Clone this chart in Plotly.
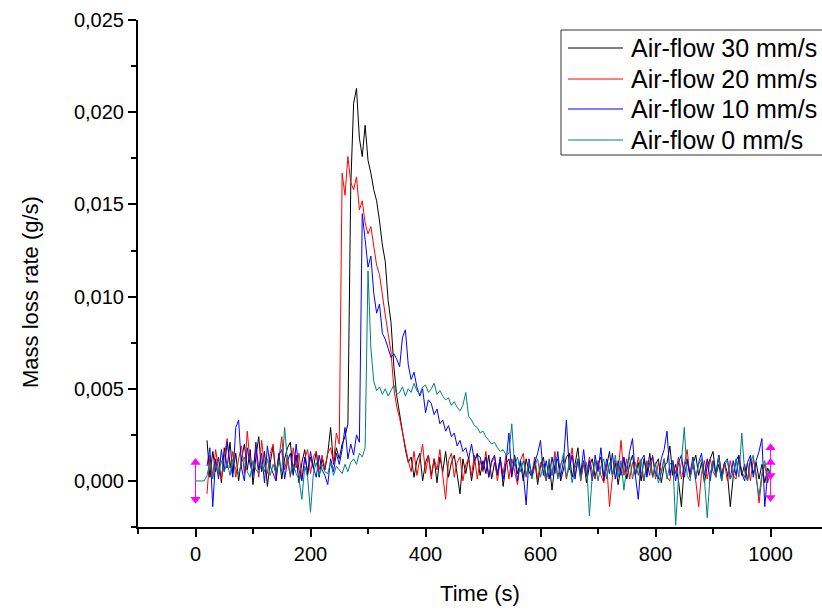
import plotly.graph_objects as go

time_s = list(range(0, 1001, 5))

flow_30 = [
    None, None, None, None, 0.0022, 0.0002, 0.0016, 0.0005, 0.0013, -0.0001,
    0.0018, 0.0007, 0.0021, 0.0004, 0.0015, 0.0000, 0.0012, 0.0020, 0.0006, 0.0017,
    -0.0002, 0.0013, 0.0024, 0.0005, 0.0016, -0.0003, 0.0010, 0.0019, 0.0003, 0.0015,
    0.0001, 0.0012, 0.0018, 0.0021, 0.0004, 0.0014, -0.0001, 0.0010, 0.0017, 0.0003,
    0.0013, 0.0007, 0.0016, 0.0002, 0.0012, 0.0006, 0.0015, 0.0029, 0.0009, 0.0018,
    0.0012, 0.0020, 0.0024, 0.0031, 0.0160, 0.0205, 0.0213, 0.0186, 0.0176, 0.0193,
    0.0174, 0.0167, 0.0158, 0.0152, 0.0141, 0.0128, 0.0119, 0.0098, 0.0086, 0.0062,
    0.0046, 0.0036, 0.0025, 0.0017, 0.0010, 0.0013, 0.0002, 0.0011, 0.0015, 0.0000,
    0.0010, 0.0014, 0.0003, 0.0012, -0.0001, 0.0013, 0.0005, 0.0016, 0.0002, 0.0010,
    0.0014, 0.0003, -0.0007, 0.0012, 0.0004, 0.0013, 0.0000, 0.0010, 0.0015, 0.0003,
    0.0011, 0.0004, 0.0014, 0.0001, 0.0010, 0.0003, 0.0013, -0.0003, 0.0009, 0.0012,
    0.0002, 0.0014, 0.0004, 0.0010, 0.0000, 0.0012, 0.0005, 0.0002, 0.0011, -0.0002,
    0.0008, 0.0013, 0.0001, 0.0010, -0.0005, 0.0009, 0.0012, 0.0000, 0.0007, 0.0013,
    0.0015, 0.0002, 0.0009, 0.0018, 0.0003, 0.0011, -0.0001, 0.0008, 0.0012, 0.0002,
    0.0009, 0.0013, 0.0000, 0.0008, 0.0016, 0.0003, 0.0010, -0.0002, 0.0008, 0.0012,
    0.0001, 0.0009, 0.0014, 0.0003, 0.0010, 0.0000, 0.0012, 0.0004, 0.0015, 0.0002,
    0.0009, 0.0012, -0.0001, 0.0008, 0.0010, 0.0019, 0.0003, 0.0009, 0.0000, -0.0014,
    0.0008, 0.0012, 0.0002, 0.0009, 0.0014, 0.0003, 0.0010, -0.0001, 0.0008, 0.0012,
    0.0016, 0.0003, 0.0009, 0.0000, 0.0010, 0.0004, -0.0014, 0.0002, 0.0011, 0.0014,
    0.0003, 0.0009, 0.0000, 0.0012, 0.0004, 0.0010, 0.0001, 0.0009, -0.0001, 0.0007,
    0.0003,
]

flow_20 = [
    None, None, None, None, -0.0007, 0.0014, 0.0003, 0.0017, 0.0006, 0.0001,
    0.0013, 0.0023, 0.0007, 0.0016, 0.0002, 0.0012, 0.0019, 0.0004, 0.0027, 0.0010,
    0.0005, 0.0017, 0.0002, 0.0022, 0.0008, 0.0004, 0.0015, 0.0020, 0.0000, 0.0013,
    0.0024, 0.0006, 0.0014, 0.0002, 0.0018, 0.0007, 0.0015, 0.0001, 0.0012, 0.0017,
    0.0004, 0.0013, 0.0016, 0.0006, 0.0014, 0.0007, 0.0015, 0.0018, 0.0010, 0.0026,
    0.0020, 0.0167, 0.0155, 0.0176, 0.0162, 0.0158, 0.0165, 0.0147, 0.0152, 0.0140,
    0.0134, 0.0138, 0.0126, 0.0117, 0.0112, 0.0100, 0.0090, 0.0080, 0.0070, 0.0050,
    0.0040, 0.0034, 0.0026, 0.0018, 0.0011, 0.0005, 0.0016, 0.0003, 0.0011, 0.0020,
    0.0004, 0.0014, 0.0001, 0.0012, 0.0006, 0.0017, 0.0003, -0.0010, 0.0011, 0.0015,
    0.0002, 0.0010, 0.0013, 0.0000, 0.0009, 0.0012, 0.0003, 0.0014, 0.0001, 0.0011,
    0.0005, 0.0016, 0.0002, 0.0010, 0.0013, 0.0000, 0.0011, 0.0004, 0.0014, 0.0001,
    0.0012, 0.0005, -0.0002, 0.0011, 0.0015, 0.0002, 0.0009, 0.0004, 0.0013, 0.0001,
    0.0010, 0.0005, 0.0000, 0.0012, 0.0003, 0.0016, 0.0002, 0.0009, 0.0012, 0.0001,
    0.0008, 0.0018, 0.0003, 0.0011, 0.0000, 0.0010, 0.0002, 0.0013, 0.0005, 0.0001,
    0.0011, 0.0003, -0.0001, 0.0009, -0.0014, 0.0002, 0.0011, 0.0005, 0.0022, 0.0003,
    0.0012, 0.0001, 0.0010, 0.0003, 0.0013, 0.0005, 0.0000, 0.0011, 0.0003, 0.0014,
    0.0001, 0.0010, 0.0005, 0.0012, 0.0002, 0.0000, 0.0011, 0.0004, 0.0013, 0.0001,
    0.0010, 0.0017, 0.0002, 0.0009, 0.0000, -0.0014, 0.0004, 0.0011, 0.0001, 0.0012,
    0.0005, 0.0002, 0.0014, 0.0004, 0.0010, 0.0000, 0.0011, 0.0003, 0.0001, 0.0013,
    0.0005, 0.0002, 0.0010, 0.0000, 0.0012, 0.0004, -0.0012, 0.0002, 0.0009, -0.0001,
    0.0005,
]

flow_10 = [
    None, None, None, None, 0.0008, 0.0018, -0.0014, 0.0012, 0.0001, 0.0017,
    0.0005, 0.0021, 0.0010, 0.0002, 0.0029, 0.0033, 0.0007, 0.0000, 0.0018, 0.0009,
    0.0003, 0.0021, 0.0006, 0.0015, -0.0001, 0.0019, 0.0008, 0.0004, 0.0000, 0.0014,
    0.0017, 0.0001, 0.0011, 0.0015, 0.0003, 0.0020, 0.0006, 0.0000, 0.0013, 0.0005,
    0.0016, 0.0007, 0.0002, 0.0014, 0.0006, 0.0003, -0.0002, 0.0012, 0.0005, 0.0015,
    0.0009, 0.0017, 0.0029, 0.0012, 0.0020, 0.0014, 0.0025, 0.0021, 0.0145, 0.0131,
    0.0116, 0.0122, 0.0102, 0.0091, 0.0096, 0.0080, 0.0077, 0.0072, 0.0067, 0.0069,
    0.0066, 0.0062, 0.0078, 0.0082, 0.0063, 0.0055, 0.0059, 0.0051, 0.0046, 0.0050,
    0.0037, 0.0044, 0.0042, 0.0036, 0.0039, 0.0031, 0.0033, 0.0027, 0.0030, 0.0024,
    0.0026, 0.0019, 0.0022, 0.0016, 0.0018, 0.0012, 0.0020, 0.0011, 0.0014, 0.0013,
    0.0006, 0.0013, 0.0002, 0.0011, 0.0014, 0.0004, 0.0012, 0.0001, 0.0010, 0.0026,
    0.0003, 0.0013, 0.0000, 0.0011, 0.0004, -0.0013, 0.0012, 0.0002, 0.0010, 0.0015,
    0.0022, 0.0003, 0.0011, 0.0001, 0.0013, 0.0004, 0.0016, 0.0002, 0.0011, 0.0033,
    0.0006, 0.0014, 0.0001, 0.0012, 0.0004, 0.0017, 0.0003, 0.0011, 0.0000, 0.0014,
    0.0005, 0.0018, 0.0002, 0.0012, 0.0004, 0.0015, 0.0001, 0.0011, 0.0003, 0.0013,
    0.0005, 0.0016, 0.0023, 0.0003, -0.0010, 0.0011, 0.0014, 0.0002, 0.0010, 0.0013,
    0.0004, 0.0001, 0.0012, 0.0017, 0.0027, 0.0003, 0.0011, 0.0000, 0.0010, 0.0014,
    0.0002, 0.0011, 0.0004, 0.0013, 0.0001, 0.0010, 0.0015, 0.0003, 0.0012, 0.0000,
    0.0011, 0.0004, 0.0014, 0.0002, 0.0010, 0.0012, 0.0001, 0.0011, 0.0003, 0.0013,
    0.0004, 0.0000, 0.0010, 0.0014, 0.0002, 0.0011, 0.0016, 0.0023, -0.0014, 0.0004,
    0.0005,
]

flow_0 = [
    0.0000, 0.0000, 0.0000, 0.0000, 0.0003, 0.0010, 0.0001, 0.0009, 0.0004, 0.0011,
    0.0005, 0.0010, 0.0003, 0.0012, 0.0006, 0.0004, 0.0010, 0.0013, 0.0005, 0.0002,
    0.0011, 0.0006, 0.0004, 0.0010, 0.0005, 0.0012, 0.0003, 0.0009, 0.0004, 0.0011,
    0.0005, 0.0029, 0.0010, 0.0003, 0.0009, 0.0004, 0.0001, -0.0010, 0.0008, 0.0002,
    -0.0017, 0.0004, 0.0010, 0.0003, 0.0009, 0.0005, 0.0004, 0.0010, 0.0003, 0.0008,
    0.0006, 0.0004, 0.0009, 0.0005, 0.0010, 0.0012, 0.0009, 0.0015, 0.0013, 0.0018,
    0.0114, 0.0072, 0.0054, 0.0049, 0.0051, 0.0047, 0.0050, 0.0046, 0.0049, 0.0052,
    0.0047, 0.0048, 0.0051, 0.0046, 0.0050, 0.0048, 0.0053, 0.0049, 0.0047, 0.0051,
    0.0052, 0.0048, 0.0050, 0.0053, 0.0047, 0.0049, 0.0046, 0.0044, 0.0045, 0.0041,
    0.0043, 0.0040, 0.0038, 0.0041, 0.0048, 0.0035, 0.0033, 0.0030, 0.0029, 0.0026,
    0.0027, 0.0024, 0.0022, 0.0020, 0.0021, 0.0018, 0.0016, 0.0017, 0.0014, 0.0015,
    0.0031, 0.0008, 0.0013, 0.0005, 0.0011, 0.0003, 0.0010, 0.0001, 0.0008, 0.0012,
    0.0002, 0.0009, 0.0000, 0.0011, 0.0003, 0.0013, 0.0001, 0.0008, 0.0015, 0.0002,
    0.0010, -0.0001, 0.0007, 0.0012, 0.0001, 0.0009, 0.0010, -0.0019, 0.0003, 0.0011,
    0.0000, 0.0008, 0.0012, 0.0001, 0.0010, 0.0003, 0.0014, 0.0002, 0.0011, -0.0005,
    0.0008, 0.0013, 0.0001, 0.0010, 0.0003, 0.0012, 0.0000, 0.0009, 0.0011, 0.0002,
    0.0010, -0.0001, 0.0004, 0.0012, 0.0001, 0.0009, 0.0011, -0.0024, 0.0002, 0.0010,
    0.0029, 0.0003, 0.0000, 0.0011, 0.0002, 0.0009, 0.0012, 0.0001, -0.0020, 0.0004,
    0.0010, 0.0002, 0.0013, 0.0000, 0.0009, 0.0011, 0.0001, 0.0004, 0.0012, 0.0002,
    0.0026, 0.0005, 0.0000, 0.0010, 0.0014, 0.0001, -0.0008, 0.0004, 0.0011, 0.0002,
    0.0007,
]

series_names = ["Air-flow 30 mm/s", "Air-flow 20 mm/s", "Air-flow 10 mm/s", "Air-flow 0 mm/s"]
series_values = [flow_30, flow_20, flow_10, flow_0]
series_colors = ["#000000", "#ff0000", "#0000ff", "#008080"]

# Origin data-reader cursor markers (magenta)
cursor_left_x = [0, 0]
cursor_left_y = [0.0010, -0.0010]
cursor_right_x = [1000, 1000, 1000, 1000]
cursor_right_y = [0.0018, 0.0010, 0.0003, -0.0009]

x_tickvals = [0, 200, 400, 600, 800, 1000]

# plot-area geometry in pixels (used to place the hand-drawn legend box)
W, H = 822, 612
ML, MR, MT, MB = 138, 0, 20, 85
PW, PH = W - ML - MR, H - MT - MB


def px(xp):
    return (xp - ML) / PW


def py(yp):
    return 1 - (yp - MT) / PH


fig = go.Figure()
for name, vals, col in zip(series_names, series_values, series_colors):
    fig.add_trace(go.Scatter(x=time_s, y=vals, mode="lines", name=name,
                             line=dict(color=col, width=1), showlegend=False))

fig.add_trace(go.Scatter(x=cursor_left_x, y=cursor_left_y, mode="lines+markers",
                         line=dict(color="#ff00ff", width=1),
                         marker=dict(symbol=["triangle-up", "triangle-down"], size=9, color="#ff00ff"),
                         showlegend=False, hoverinfo="skip"))
fig.add_trace(go.Scatter(x=cursor_right_x, y=cursor_right_y, mode="lines+markers",
                         line=dict(color="#ff00ff", width=1),
                         marker=dict(symbol=["triangle-up", "triangle-up", "triangle-down", "triangle-down"],
                                     size=9, color="#ff00ff"),
                         showlegend=False, hoverinfo="skip"))

font_family = "Liberation Sans, Arial, sans-serif"

# legend (Origin style): box, line samples, labels
shapes = [dict(type="rect", xref="paper", yref="paper",
               x0=px(561), x1=px(840), y0=py(155), y1=py(30),
               line=dict(color="#333333", width=1), fillcolor="white", layer="above")]
annotations = []
row_y = [48, 79, 109, 140]
for name, col, ry in zip(series_names, series_colors, row_y):
    shapes.append(dict(type="line", xref="paper", yref="paper",
                       x0=px(568), x1=px(623), y0=py(ry), y1=py(ry),
                       line=dict(color=col, width=1), layer="above"))
    annotations.append(dict(text=name, xref="paper", yref="paper",
                            x=px(629), y=py(ry), xanchor="left", yanchor="middle",
                            showarrow=False, font=dict(size=25, family=font_family, color="black")))

annotations.append(dict(text="Mass loss rate (g/s)", xref="paper", yref="paper",
                        x=px(30), y=py(292), xanchor="center", yanchor="middle",
                        textangle=-90, showarrow=False,
                        font=dict(size=22, family=font_family, color="black")))

fig.update_layout(
    width=W, height=H,
    margin=dict(l=ML, r=MR, t=MT, b=MB),
    paper_bgcolor="white", plot_bgcolor="white",
    separators=", ",
    font=dict(family=font_family, color="black", size=20),
    showlegend=False,
    shapes=shapes,
    annotations=annotations,
)

fig.update_xaxes(
    range=[-100, 1089.5], showgrid=False, zeroline=False,
    showline=True, linecolor="black", linewidth=2,
    tickmode="array", tickvals=x_tickvals,
    ticks="outside", ticklen=8, tickwidth=2, tickcolor="black",
    tickfont=dict(size=20),
    minor=dict(dtick=100, tick0=0, ticks="outside", ticklen=5, tickwidth=2, tickcolor="black", showgrid=False),
    title=dict(text="Time (s)", font=dict(size=22), standoff=22),
)

fig.update_yaxes(
    range=[-0.0025, 0.02501], showgrid=False, zeroline=False,
    showline=True, linecolor="black", linewidth=2,
    tick0=0, dtick=0.005, tickformat=".3f",
    ticks="outside", ticklen=8, tickwidth=2, tickcolor="black",
    tickfont=dict(size=20),
    minor=dict(dtick=0.0025, tick0=0, ticks="outside", ticklen=5, tickwidth=2, tickcolor="black", showgrid=False),
)

fig.write_html("out.html")
